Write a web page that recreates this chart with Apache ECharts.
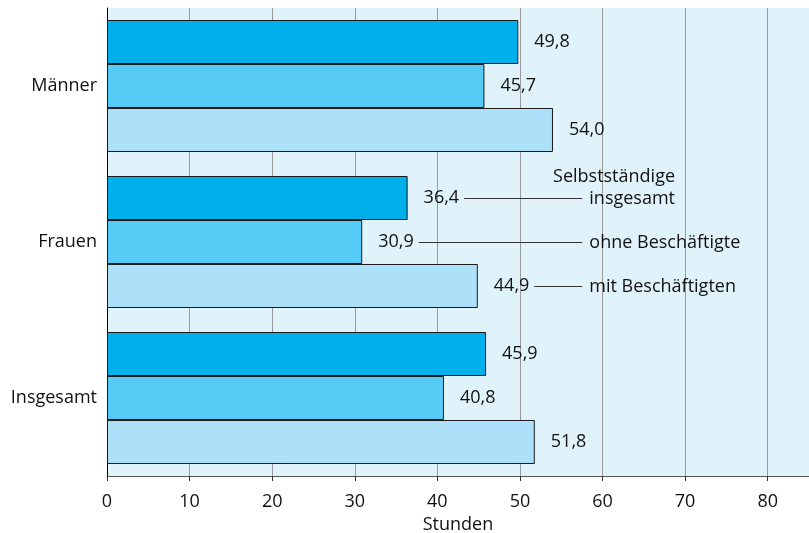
<!DOCTYPE html>
<html><head><meta charset="utf-8">
<script src="https://cdn.jsdelivr.net/npm/echarts@6/dist/echarts.min.js"></script>
<style>html,body{margin:0;padding:0;background:#fff}#c{width:809px;height:533px}</style>
</head><body><div id="c"></div>
<script>
const categories = ['Männer', 'Frauen', 'Insgesamt'];
const seriesNames = ['Selbstständige insgesamt', 'ohne Beschäftigte', 'mit Beschäftigten'];
const valuesInsgesamt = [49.8, 36.4, 45.9];
const valuesOhne = [45.7, 30.9, 40.8];
const valuesMit = [54.0, 44.9, 51.8];
const xTicks = [0, 10, 20, 30, 40, 50, 60, 70, 80];
const legendTexts = ['Selbstständige\ninsgesamt', 'ohne Beschäftigte', 'mit Beschäftigten'];
const legendCategory = 'Frauen';
const axisTitle = 'Stunden';

const allValues = [valuesInsgesamt, valuesOhne, valuesMit];
const colors = ['#00b0eb', '#56cbf5', '#ade1fa'];
const FONT = '"Open Sans", sans-serif';
const FS = 18;
const LABEL_DIST = 16;
const CAT_GAP = 0.154;
const LEGEND_X_VALUE = 58.4;

const fmt = v => v.toFixed(1).replace('.', ',');
const ctx = document.createElement('canvas').getContext('2d');
ctx.font = FS + 'px ' + FONT;
const textW = s => ctx.measureText(s).width;

const chart = echarts.init(document.getElementById('c'), null, {renderer: 'canvas'});

const barSeries = allValues.map((vals, i) => ({
  name: seriesNames[i],
  type: 'bar',
  data: vals,
  barGap: '0%',
  barCategoryGap: (CAT_GAP * 100) + '%',
  itemStyle: {color: colors[i], borderColor: '#1a1a1a', borderWidth: 1},
  label: {show: true, position: 'right', distance: LABEL_DIST, formatter: p => fmt(p.value),
          fontFamily: FONT, fontSize: FS, color: '#111'},
  z: 2
}));

const catIdx = categories.indexOf(legendCategory);
const annoData = legendTexts.map((t, i) => [allValues[i][catIdx], catIdx, i]);

const annoSeries = {
  type: 'custom',
  silent: true,
  clip: false,
  z: 5,
  encode: {x: 0, y: 1},
  data: annoData,
  renderItem: function (params, api) {
    const v = api.value(0), c = api.value(1), i = api.value(2);
    const p = api.coord([v, c]);
    const band = api.size([0, 1])[1];
    const barW = band * (1 - CAT_GAP) / 3;
    const y = Math.round(p[1] + (i - 1) * barW) + 0.5;
    const x0 = p[0] + LABEL_DIST + textW(fmt(v)) + 5;
    const tx = api.coord([LEGEND_X_VALUE, c])[0];
    const x1 = tx - 7;
    const txt = legendTexts[i];
    const lines = txt.split('\n');
    const children = [{
      type: 'line',
      shape: {x1: x0, y1: y, x2: x1, y2: y},
      style: {stroke: '#333', lineWidth: 1}
    }];
    if (lines.length > 1) {
      const lastW = textW(lines[lines.length - 1]);
      children.push({
        type: 'text',
        style: {text: txt, x: tx + lastW, y: y + 11, align: 'right', verticalAlign: 'bottom',
                font: FS + 'px ' + FONT, fill: '#111', lineHeight: 22}
      });
    } else {
      children.push({
        type: 'text',
        style: {text: txt, x: tx, y: y, align: 'left', verticalAlign: 'middle',
                font: FS + 'px ' + FONT, fill: '#111'}
      });
    }
    return {type: 'group', children: children};
  }
};

chart.setOption({
  animation: false,
  grid: {left: 107, right: 0, top: 8, bottom: 57, show: true, backgroundColor: '#e1f3fa', borderWidth: 0,
         containLabel: false, outerBoundsMode: 'none'},
  xAxis: {
    type: 'value', min: 0, max: 85, interval: 10,
    name: axisTitle, nameLocation: 'middle', nameGap: 35,
    nameTextStyle: {fontFamily: FONT, fontSize: FS, color: '#111'},
    axisLine: {show: true, lineStyle: {color: '#555', width: 1}},
    axisTick: {show: true, length: 5, lineStyle: {color: '#333'}, customValues: xTicks},
    axisLabel: {fontFamily: FONT, fontSize: FS, color: '#111', margin: 17, customValues: xTicks,
                formatter: v => String(v)},
    splitLine: {show: true, lineStyle: {color: '#999', width: 1}}
  },
  yAxis: {
    type: 'category', data: categories, inverse: true,
    axisLine: {show: true, lineStyle: {color: '#000', width: 1}},
    axisTick: {show: false},
    axisLabel: {fontFamily: FONT, fontSize: FS, color: '#111', margin: 10},
    splitLine: {show: false}
  },
  series: barSeries.concat([annoSeries])
});
</script></body></html>
